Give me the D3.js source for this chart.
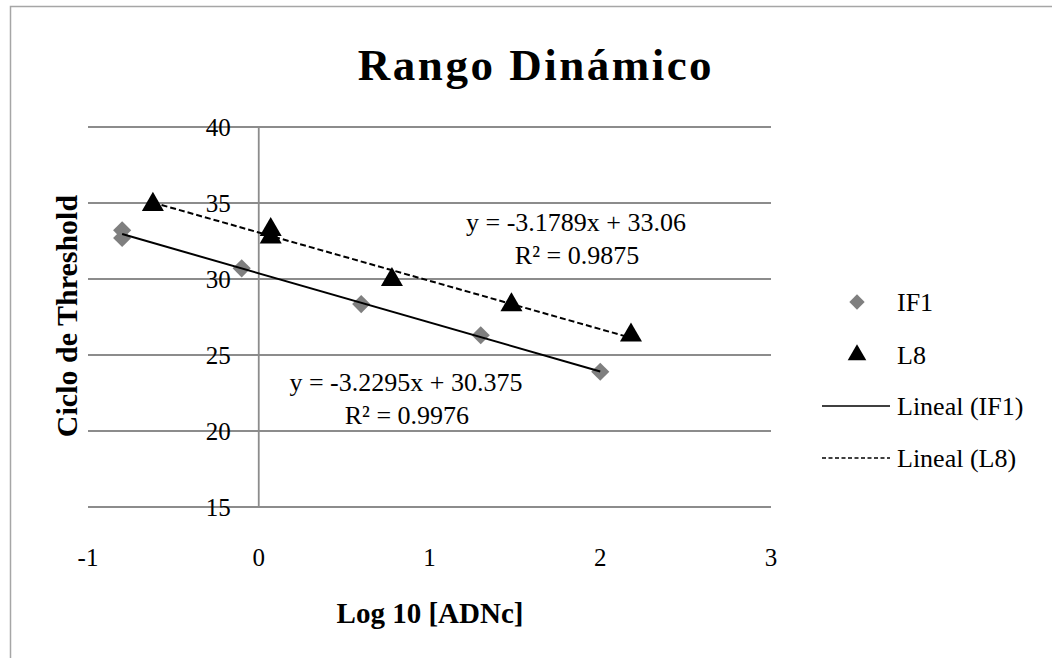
<!DOCTYPE html>
<html>
<head>
<meta charset="utf-8">
<script src="https://cdn.jsdelivr.net/npm/d3@7"></script>
<style>
    body { margin: 0; background: #fff; }
    text { font-family: "Liberation Serif", "Times New Roman", serif; fill: #000; }
</style>
</head>
<body>
<svg id="chart" width="1052" height="658"></svg>
<script>
// data
var if1X = [-0.8, -0.8, -0.1, 0.6, 1.3, 2.0];
var if1Y = [33.2, 32.7, 30.7, 28.35, 26.3, 23.9];
var l8X = [-0.62, 0.07, 0.07, 0.78, 1.48, 2.18];
var l8Y = [34.9, 33.25, 32.75, 29.95, 28.3, 26.3];

// trendlines: [slope, intercept]
var if1Fit = [-3.2295, 30.375];
var l8Fit = [-3.1789, 33.06];
var if1Labels = ["y = -3.2295x + 30.375", "R² = 0.9976"];
var l8Labels = ["y = -3.1789x + 33.06", "R² = 0.9875"];

var xTicks = [-1, 0, 1, 2, 3];
var yTicks = [15, 20, 25, 30, 35, 40];
var legendNames = ["IF1", "L8", "Lineal (IF1)", "Lineal (L8)"];

var svg = d3.select("#chart");

var x = d3.scaleLinear().domain([-1, 3]).range([88, 771]);
var y = d3.scaleLinear().domain([15, 40]).range([507, 127]);

// outer frame
svg.append("rect")
    .attr("x", 10.5).attr("y", 6.5)
    .attr("width", 1060).attr("height", 670)
    .attr("fill", "none")
    .attr("stroke", "#a6a6a6")
    .attr("stroke-width", 1.5);

// title
svg.append("text")
    .attr("x", 536).attr("y", 80)
    .attr("text-anchor", "middle")
    .style("font-size", "45px")
    .style("font-weight", "bold")
    .style("letter-spacing", "2.5px")
    .text("Rango Dinámico");

// gridlines
svg.append("g").selectAll("line")
    .data(yTicks)
    .enter().append("line")
    .attr("x1", x(-1)).attr("x2", x(3))
    .attr("y1", d => y(d)).attr("y2", d => y(d))
    .attr("stroke", "#8c8c8c")
    .attr("stroke-width", 1.8);

// vertical axis at x = 0
svg.append("line")
    .attr("x1", x(0)).attr("x2", x(0))
    .attr("y1", y(40)).attr("y2", y(15))
    .attr("stroke", "#8c8c8c")
    .attr("stroke-width", 1.8);

// tick labels
svg.append("g").selectAll("text")
    .data(yTicks)
    .enter().append("text")
    .attr("x", x(0) - 28)
    .attr("y", d => y(d))
    .attr("dy", "0.35em")
    .attr("text-anchor", "end")
    .style("font-size", "25px")
    .text(d => d);

svg.append("g").selectAll("text")
    .data(xTicks)
    .enter().append("text")
    .attr("x", d => x(d))
    .attr("y", 557)
    .attr("dy", "0.35em")
    .attr("text-anchor", "middle")
    .style("font-size", "25px")
    .text(d => d);

// axis titles
svg.append("text")
    .attr("x", 430).attr("y", 613)
    .attr("dy", "0.35em")
    .attr("text-anchor", "middle")
    .style("font-size", "29px")
    .style("font-weight", "bold")
    .text("Log 10 [ADNc]");

svg.append("text")
    .attr("transform", "translate(66,316) rotate(-90)")
    .attr("dy", "0.35em")
    .attr("text-anchor", "middle")
    .style("font-size", "30px")
    .style("font-weight", "bold")
    .text("Ciclo de Threshold");

// markers
var diamond = d3.symbol().type(d3.symbolDiamond2).size(210);
var triangle = d3.symbol().type(d3.symbolTriangle).size(210);

svg.append("g").selectAll("path")
    .data(if1X.map((d, i) => [d, if1Y[i]]))
    .enter().append("path")
    .attr("d", diamond)
    .attr("transform", d => "translate(" + x(d[0]) + "," + y(d[1]) + ")")
    .attr("fill", "#7f7f7f");

svg.append("g").selectAll("path")
    .data(l8X.map((d, i) => [d, l8Y[i]]))
    .enter().append("path")
    .attr("d", triangle)
    .attr("transform", d => "translate(" + x(d[0]) + "," + y(d[1]) + ")")
    .attr("fill", "#000");

// trendlines over the range of each series
function trend(xs, fit, dash) {
    var lo = d3.min(xs), hi = d3.max(xs);
    svg.append("line")
        .attr("x1", x(lo)).attr("y1", y(fit[0] * lo + fit[1]))
        .attr("x2", x(hi)).attr("y2", y(fit[0] * hi + fit[1]))
        .attr("stroke", "#000")
        .attr("stroke-width", 2)
        .attr("stroke-dasharray", dash);
}
trend(if1X, if1Fit, null);
trend(l8X, l8Fit, "6,3");

// equation labels
function eqLabel(lines, cx, cy) {
    lines.forEach(function (t, i) {
        svg.append("text")
            .attr("x", x(cx) + (i ? 1 : 0))
            .attr("y", y(cy) + i * 33)
            .attr("dy", "0.35em")
            .attr("text-anchor", "middle")
            .style("font-size", "26px")
            .text(t);
    });
}
eqLabel(l8Labels, 1.858, 33.75);
eqLabel(if1Labels, 0.862, 23.2);

// legend
var legend = svg.append("g");
var ly = [302, 355, 406, 458];
legend.append("path")
    .attr("d", d3.symbol().type(d3.symbolDiamond2).size(150))
    .attr("transform", "translate(857," + ly[0] + ")")
    .attr("fill", "#7f7f7f");
legend.append("path")
    .attr("d", d3.symbol().type(d3.symbolTriangle).size(150))
    .attr("transform", "translate(857," + ly[1] + ")")
    .attr("fill", "#000");
legend.append("line")
    .attr("x1", 822).attr("x2", 890)
    .attr("y1", ly[2]).attr("y2", ly[2])
    .attr("stroke", "#000").attr("stroke-width", 1.5);
legend.append("line")
    .attr("x1", 822).attr("x2", 890)
    .attr("y1", ly[3]).attr("y2", ly[3])
    .attr("stroke", "#000").attr("stroke-width", 1.5)
    .attr("stroke-dasharray", "4,2.5");
legend.selectAll("text")
    .data(legendNames)
    .enter().append("text")
    .attr("x", 897)
    .attr("y", (d, i) => ly[i])
    .attr("dy", "0.35em")
    .style("font-size", "26px")
    .text(d => d);
</script>
</body>
</html>
